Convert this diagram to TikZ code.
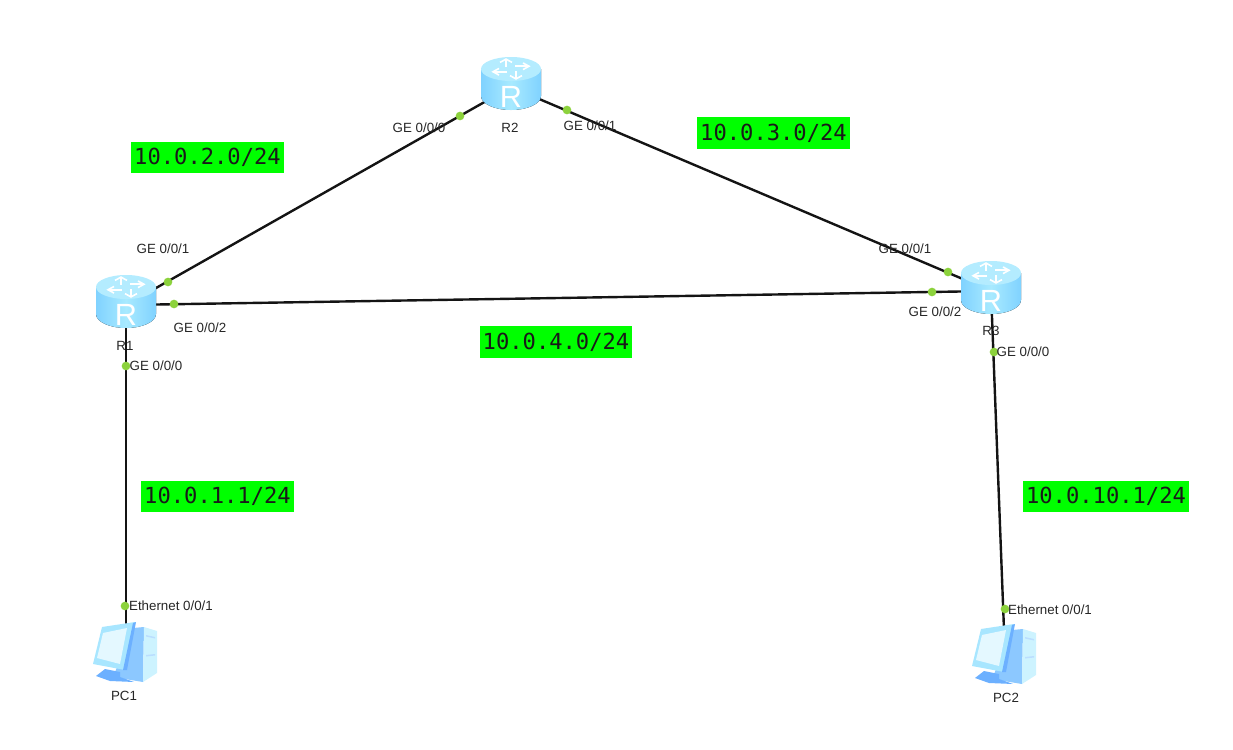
\documentclass[tikz,border=0pt]{standalone}
\usepackage{fontspec}
\setmainfont{Liberation Sans}
\newfontfamily\netfont{DejaVu Sans Mono}
\definecolor{dotgreen}{HTML}{8CD23C}
\definecolor{rtop}{HTML}{B4ECFF}
\definecolor{rmid}{HTML}{A8EAFF}
\definecolor{rdark}{HTML}{80D2FF}
\definecolor{pcpale}{HTML}{E4F8FF}
\definecolor{pcframe}{HTML}{A8E6FF}
\definecolor{pclight}{HTML}{CDF3FF}
\definecolor{pcmid}{HTML}{8CC8FF}
\definecolor{pcblue}{HTML}{6CB0FF}
\tikzset{
  x=0.75pt,y=-0.75pt,
  link/.style={draw=black!92,line width=1.8pt},
  portdot/.style={circle,fill=dotgreen,draw=none,minimum size=6.5pt,inner sep=0pt},
  portlabel/.style={font=\fontsize{10pt}{12pt}\selectfont,text=black!85,inner sep=0pt},
  netlabel/.style={fill=green,text=black!90,font=\netfont\fontsize{16.6pt}{19pt}\selectfont,minimum width=114.5pt,minimum height=23.5pt,inner sep=0pt},
  devbox/.style={draw=none,inner sep=0pt,minimum width=45pt,minimum height=40pt}
}
\newcommand{\routericon}[1]{%
  \begin{scope}[shift={(#1)}]
    \fill[left color=rdark,right color=rdark,middle color=rmid] (-30,-18) -- (-30,9) arc[x radius=22.5pt,y radius=10.5pt,start angle=180,end angle=360] -- (30,-18) -- cycle;
    \fill[rtop] (0,-18) ellipse[x radius=22.5pt,y radius=9pt];
    \begin{scope}[shift={(0,-18)},yscale=0.55]
      \foreach \a in {0,90,180,270}{
        \begin{scope}[rotate=\a]
          \draw[white,line width=1.2pt,line join=miter] (-5,-4) -- (-5,-18);
          \draw[white,line width=1.2pt,line join=miter] (-11,-12) -- (-5,-18) -- (1,-12);
        \end{scope}
      }
    \end{scope}
    \node[text=white,font=\fontsize{23pt}{23pt}\selectfont,inner sep=0pt] at (0,10) {R};
  \end{scope}}
\newcommand{\pcicon}[1]{%
  \begin{scope}[shift={(#1)}]
    \fill[pcmid] (7,-26) -- (18,-27) -- (17,28) -- (-13,23) -- cycle;
    \fill[pclight] (18,-27) -- (31,-23) -- (31,19) -- (17,28) -- cycle;
    \fill[pcmid!60!white] (20,-19) -- (29,-17) -- (29,-15.5) -- (20,-17.5) -- cycle;
    \fill[pcmid!60!white] (20,1) -- (29,0) -- (29,1.5) -- (20,2.5) -- cycle;
    \fill[pcblue] (-30,22) -- (-21,15) -- (-6,18) -- (-6,23) -- (8,28) -- (-16,27) -- cycle;
    \fill[pcframe] (-24,-27) -- (9,-32) -- (-1,16) -- (-33,10) -- cycle;
    \fill[pcblue] (7,-31) -- (10,-32) -- (1,16) -- (-3,16) -- cycle;
    \fill[pcpale] (-23,-21) -- (1,-26) -- (-6,10) -- (-29,4) -- cycle;
  \end{scope}}
\begin{document}
\begin{tikzpicture}
\useasboundingbox (0,0) rectangle (1233,750);
\node[devbox] (R1) at (126,305) {};
\node[devbox] (R2) at (511,87) {};
\node[devbox] (R3) at (991,291) {};
\node[devbox] (PC1) at (126,654) {};
\node[devbox] (PC2) at (1005,656) {};
\draw[link] (R1.center) -- (R2.center);
\draw[link] (R2.center) -- (R3.center);
\draw[link] (R1.center) -- (R3.center);
\draw[link] (R1.center) -- (PC1.center);
\draw[link] (R3.center) -- (PC2.center);
\routericon{126,305}
\routericon{511,87}
\routericon{991,291}
\pcicon{126,654}
\pcicon{1005,656}
\node[portdot] (d1) at (168,282) {};
\node[portdot] (d2) at (174,304) {};
\node[portdot] (d3) at (126,366) {};
\node[portdot] (d4) at (125,606) {};
\node[portdot] (d5) at (460,116) {};
\node[portdot] (d6) at (567,110) {};
\node[portdot] (d7) at (948,272) {};
\node[portdot] (d8) at (932,292) {};
\node[portdot] (d9) at (994,352) {};
\node[portdot] (d10) at (1005,609) {};
\node[portlabel] (l1) at (163,249) {GE 0/0/1};
\node[portlabel] (l2) at (200,328) {GE 0/0/2};
\node[portlabel] (l3) at (156,366) {GE 0/0/0};
\node[portlabel] (l4) at (171,606) {Ethernet 0/0/1};
\node[portlabel] (l5) at (419,128) {GE 0/0/0};
\node[portlabel] (l6) at (590,126) {GE 0/0/1};
\node[portlabel] (l7) at (905,249) {GE 0/0/1};
\node[portlabel] (l8) at (935,312) {GE 0/0/2};
\node[portlabel] (l9) at (1023,352) {GE 0/0/0};
\node[portlabel] (l10) at (1050,610) {Ethernet 0/0/1};
\node[portlabel] (n1) at (125,346) {R1};
\node[portlabel] (n2) at (510,128) {R2};
\node[portlabel] (n3) at (991,331) {R3};
\node[portlabel] (n4) at (124,696) {PC1};
\node[portlabel] (n5) at (1006,698) {PC2};
\node[netlabel] (a) at (207.5,157.5) {10.0.2.0/24};
\node[netlabel] (b) at (773.5,133) {10.0.3.0/24};
\node[netlabel] (c) at (556,342) {10.0.4.0/24};
\node[netlabel] (e) at (217.5,496.5) {10.0.1.1/24};
\node[netlabel,minimum width=124.5pt] (f) at (1106,496.5) {10.0.10.1/24};
\end{tikzpicture}
\end{document}
